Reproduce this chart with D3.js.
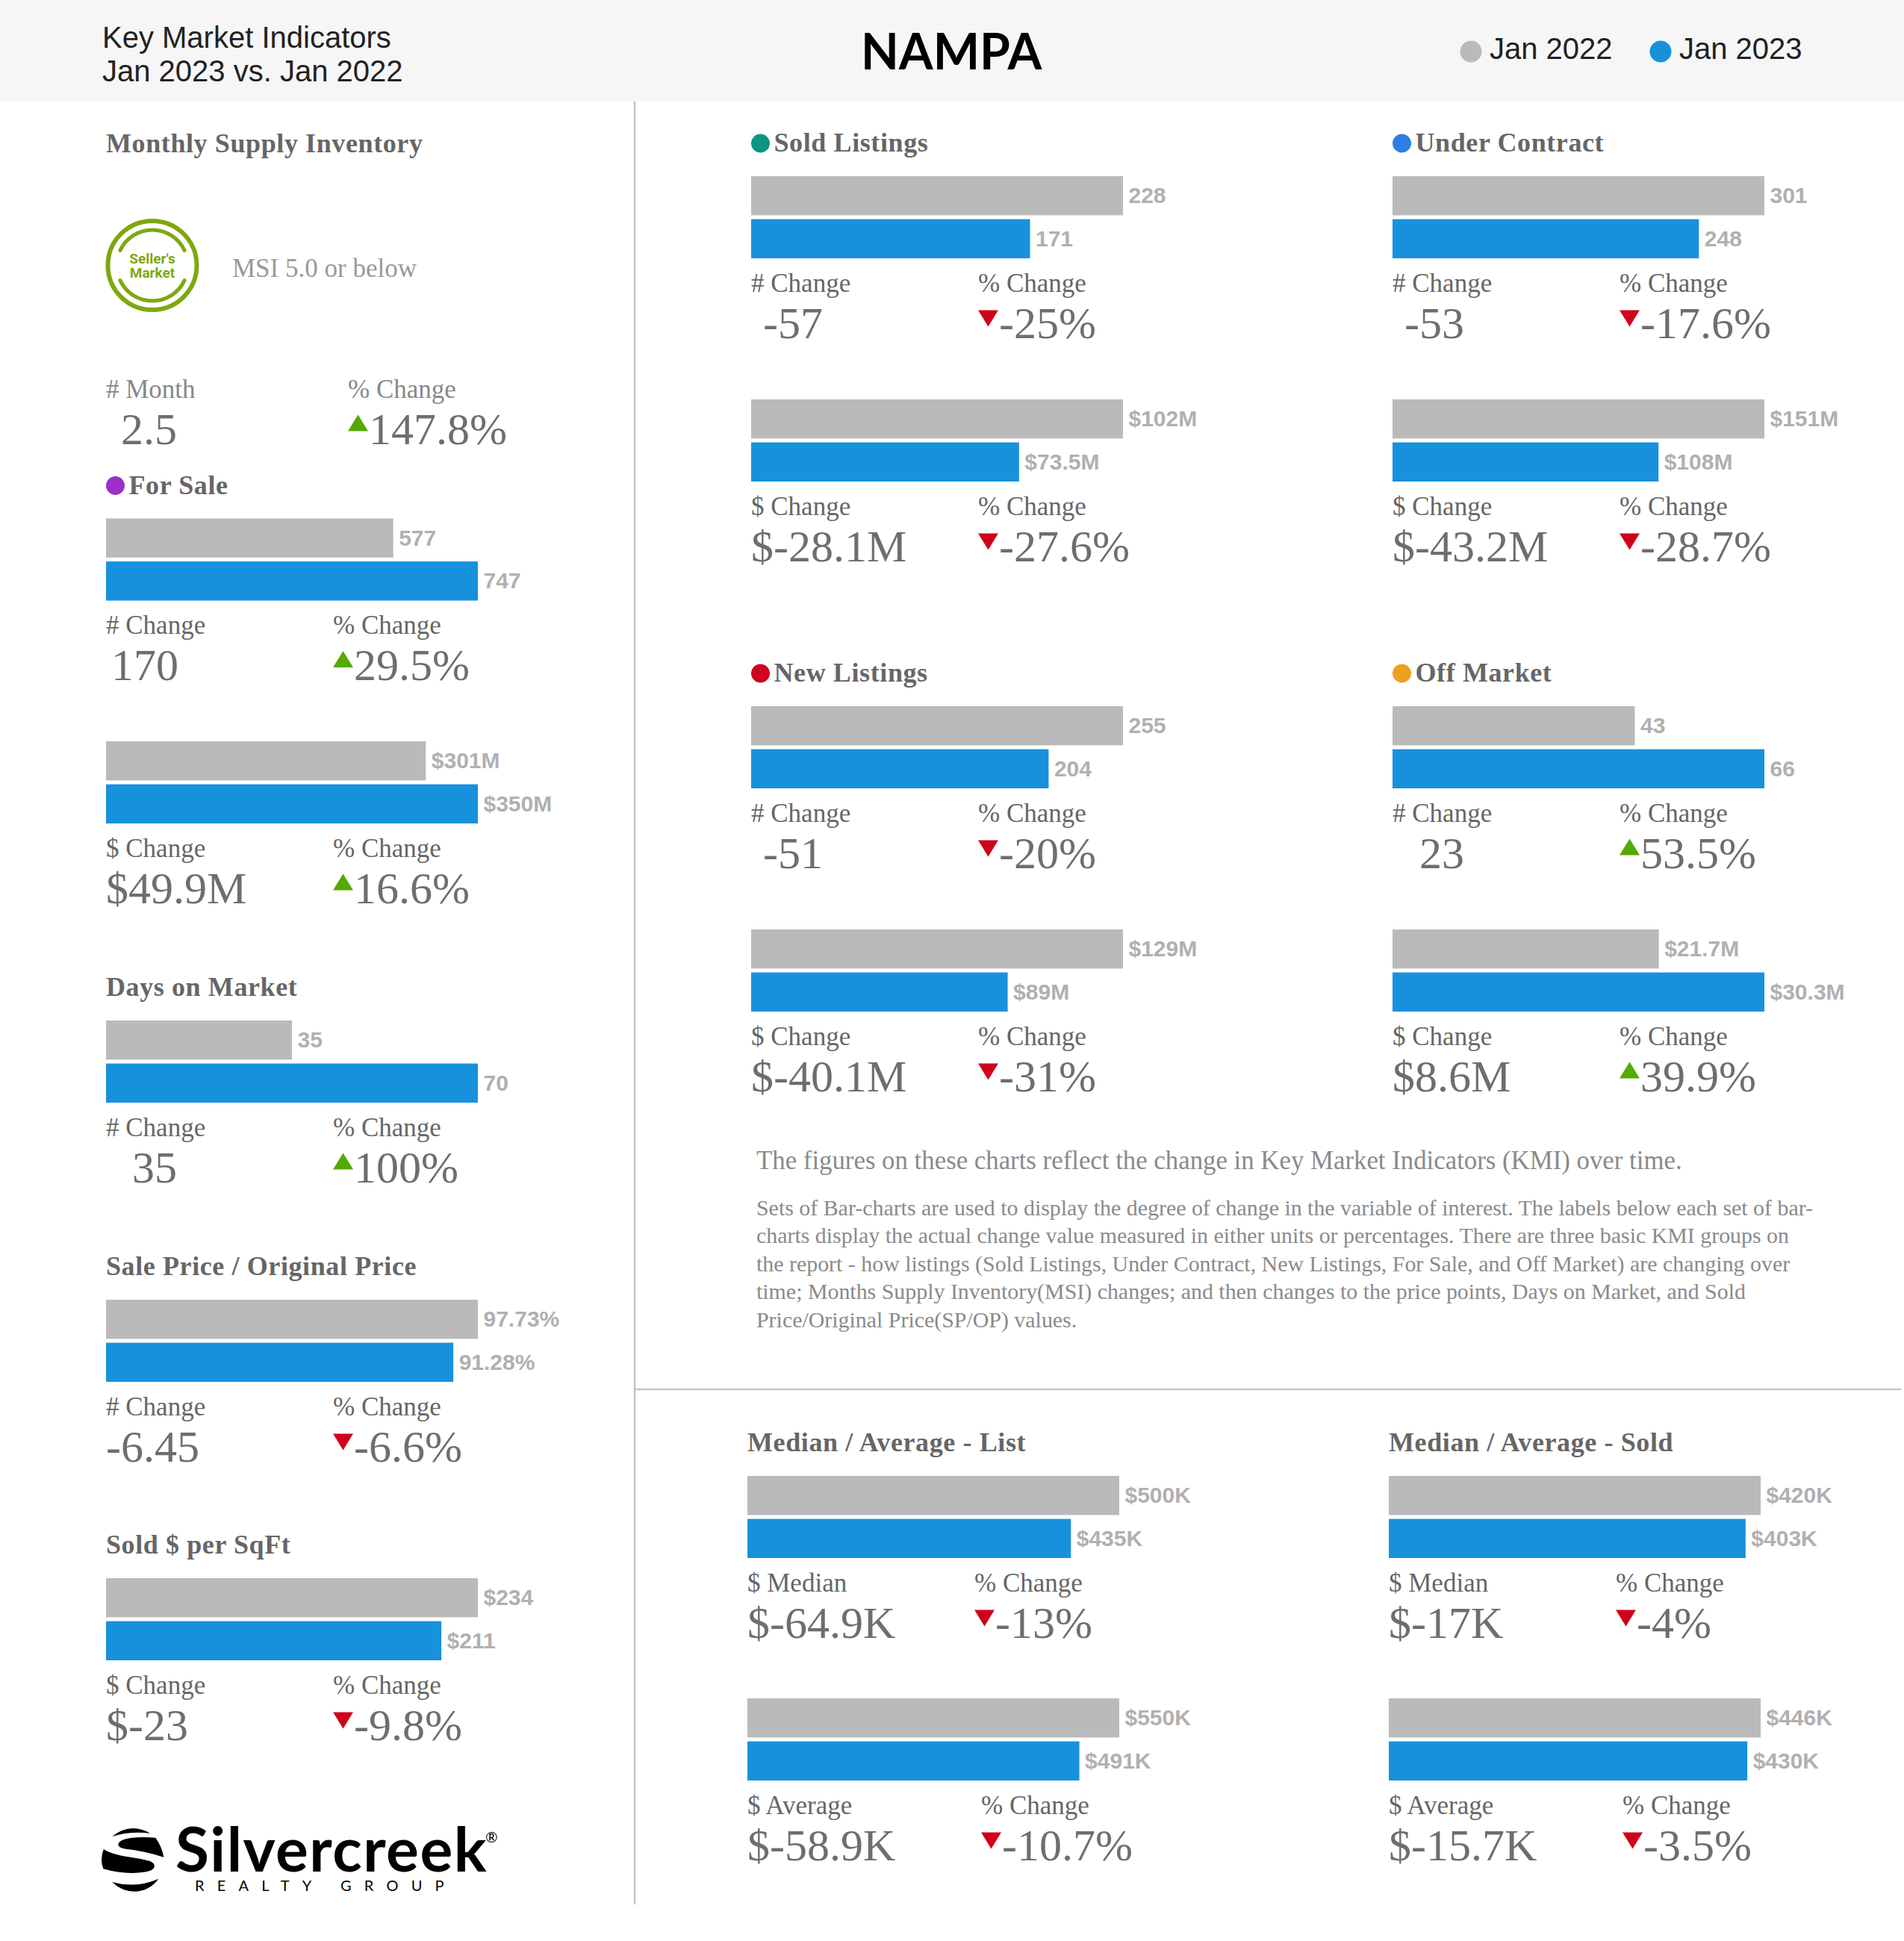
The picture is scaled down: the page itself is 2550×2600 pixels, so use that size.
<!DOCTYPE html>
<html>
<head>
<meta charset="utf-8">
<script src="https://cdnjs.cloudflare.com/ajax/libs/d3/7.8.5/d3.min.js"></script>
<style>
html, body { margin: 0; padding: 0; background: #fff; }
svg { display: block; }
</style>
</head>
<body>
<svg width="2550" height="2600"></svg>
<script>
// data, one entry per bar pair
const seriesNames = ["Jan 2022", "Jan 2023"];
const values2022 = [577, 301, 35, 97.73, 234, 228, 102, 301, 151, 255, 129, 43, 21.7, 500, 550, 420, 446];
const values2023 = [747, 350, 70, 91.28, 211, 171, 73.5, 248, 108, 204, 89, 66, 30.3, 435, 491, 403, 430];
const labels2022 = ["577", "$301M", "35", "97.73%", "$234", "228", "$102M", "301", "$151M", "255", "$129M", "43", "$21.7M", "$500K", "$550K", "$420K", "$446K"];
const labels2023 = ["747", "$350M", "70", "91.28%", "$211", "171", "$73.5M", "248", "$108M", "204", "$89M", "66", "$30.3M", "$435K", "$491K", "$403K", "$430K"];
const changeTitles = ["# Change", "$ Change", "# Change", "# Change", "$ Change", "# Change", "$ Change", "# Change", "$ Change", "# Change", "$ Change", "# Change", "$ Change", "$ Median", "$ Average", "$ Median", "$ Average"];
const changeValues = ["170", "$49.9M", "35", "-6.45", "$-23", "-57", "$-28.1M", "-53", "$-43.2M", "-51", "$-40.1M", "23", "$8.6M", "$-64.9K", "$-58.9K", "$-17K", "$-15.7K"];
const pctValues = [29.5, 16.6, 100, -6.6, -9.8, -25, -27.6, -17.6, -28.7, -20, -31, 53.5, 39.9, -13, -10.7, -4, -3.5];
const panelTitles = ["For Sale", null, "Days on Market", "Sale Price / Original Price", "Sold $ per SqFt", "Sold Listings", null, "Under Contract", null, "New Listings", null, "Off Market", null, "Median / Average - List", null, "Median / Average - Sold", null];
const titleDots = ["#9b30c8", null, null, null, null, "#0a9682", null, "#2c7fe3", null, "#d0021b", null, "#f0a020", null, null, null, null, null];

const msiTitle = "Monthly Supply Inventory";
const msiNote = "MSI 5.0 or below";
const msiValue = "2.5";
const msiPct = 147.8;

const noteHead = "The figures on these charts reflect the change in Key Market Indicators (KMI) over time.";
const noteLines = [
    "Sets of Bar-charts are used to display the degree of change in the variable of interest. The labels below each set of bar-",
    "charts display the actual change value measured in either units or percentages. There are three basic KMI groups on",
    "the report - how listings (Sold Listings, Under Contract, New Listings, For Sale, and Off Market) are changing over",
    "time; Months Supply Inventory(MSI) changes; and then changes to the price points, Days on Market, and Sold",
    "Price/Original Price(SP/OP) values."
];

// layout of the panels, same order as the data
const panelX = [142, 142, 142, 142, 142, 1006, 1006, 1865, 1865, 1006, 1006, 1865, 1865, 1001, 1001, 1860, 1860];
const panelY = [694.5, 993, 1367, 1741, 2114, 236, 535, 236, 535, 946, 1245, 946, 1245, 1977, 2275, 1977, 2275];
const valueDx = [7, 0, 35, 0, 0, 16, 0, 16, 0, 16, 0, 36, 0, 0, 0, 0, 0];
const pctDx = [304, 304, 304, 304, 304, 304, 304, 304, 304, 304, 304, 304, 304, 304, 313, 304, 313];

const colors = { "Jan 2022": "#bababa", "Jan 2023": "#1891dd" };
const serif = "'Liberation Serif', serif";
const sans = "'Liberation Sans', sans-serif";
const barMax = 498;
const bigSize = 60;

// logo shapes in a 110 x 110 box at 3x
const globeParts = [
    "M75 75 Q150 16 228 62 Q150 52 75 75Z",
    "M250 80 Q275 115 283 158 Q200 132 130 125 Q100 120 100 108 Q100 90 145 82 Q190 75 250 80Z",
    "M42 125 Q60 142 130 155 Q200 165 230 175 Q248 185 245 198 Q240 215 190 220 Q120 228 40 205 Q25 165 42 125Z",
    "M75 258 Q170 285 262 245 Q225 295 165 296 Q115 296 75 258Z"
];

const svg = d3.select("svg");

function addText(g, x, y, str, size, color, font, weight) {
    return g.append("text")
        .attr("x", x)
        .attr("y", y)
        .attr("font-family", font || serif)
        .attr("font-size", size)
        .attr("font-weight", weight || "normal")
        .attr("fill", color)
        .text(str);
}

function addTitle(g, x, y, str) {
    return addText(g, x, y, str, 36, "#666", serif, "bold").attr("letter-spacing", 0.6);
}

function drawPct(g, x, y, pct) {
    // triangle then number, y is the baseline of the number
    const up = pct >= 0;
    const pts = up
        ? [[x, y - 17], [x + 27, y - 17], [x + 13.5, y - 39]]
        : [[x, y - 37], [x + 27, y - 37], [x + 13.5, y - 15]];
    g.append("polygon")
        .attr("points", pts.map(p => p.join(",")).join(" "))
        .attr("fill", up ? "#55a900" : "#d0021b");
    addText(g, x + 28, y, pct + "%", bigSize, "#6e6e6e");
}

function drawPanel(i) {
    const g = svg.append("g").attr("transform", `translate(${panelX[i]}, ${panelY[i]})`);
    const row = [
        { name: seriesNames[0], value: values2022[i], label: labels2022[i] },
        { name: seriesNames[1], value: values2023[i], label: labels2023[i] }
    ];

    const scX = d3.scaleLinear().domain([0, d3.max(row, d => d.value)]).range([0, barMax]);
    const scY = d3.scaleBand().domain(seriesNames).range([0, 110]).paddingInner(0.09);

    g.selectAll(".bar")
        .data(row)
        .enter()
        .append("rect")
        .attr("x", 0)
        .attr("y", d => scY(d.name))
        .attr("width", d => scX(d.value))
        .attr("height", scY.bandwidth())
        .attr("fill", d => colors[d.name]);

    g.selectAll(".val")
        .data(row)
        .enter()
        .append("text")
        .attr("x", d => scX(d.value) + 7.5)
        .attr("y", d => scY(d.name) + 36)
        .attr("font-family", sans)
        .attr("font-weight", "bold")
        .attr("font-size", 30)
        .attr("fill", "#b0b0b0")
        .text(d => d.label);

    if (panelTitles[i]) {
        const dot = titleDots[i];
        if (dot) {
            g.append("circle").attr("cx", 12.5).attr("cy", -44).attr("r", 12.5).attr("fill", dot);
        }
        addTitle(g, dot ? 30.5 : 0, -33, panelTitles[i]);
    }

    addText(g, 0, 154.5, changeTitles[i], 35, "#666");
    addText(g, pctDx[i], 154.5, "% Change", 35, "#666");
    addText(g, valueDx[i], 216.5, changeValues[i], bigSize, "#6e6e6e");
    drawPct(g, pctDx[i], 216.5, pctValues[i]);
}

function drawHeader() {
    svg.append("rect").attr("width", 2550).attr("height", 136).attr("fill", "#f6f6f6");
    addText(svg, 137, 64, "Key Market Indicators", 40, "#222", sans);
    addText(svg, 137, 109, "Jan 2023 vs. Jan 2022", 40, "#222", sans);
    addText(svg, 1153, 93, "NAMPA", 66, "#000", "Lato", 700);

    const legendX = [1970, 2224];
    seriesNames.forEach((name, i) => {
        svg.append("circle").attr("cx", legendX[i]).attr("cy", 69).attr("r", 14.5).attr("fill", colors[name]);
        addText(svg, legendX[i] + 25, 79, name, 40, "#222", sans);
    });
}

function drawMsi() {
    addTitle(svg, 142, 204, msiTitle);

    const green = "#7ea80f";
    const badge = svg.append("g").attr("transform", "translate(204, 355.5)");
    badge.append("circle").attr("r", 59.5).attr("fill", "none").attr("stroke", green).attr("stroke-width", 6);
    const arc = d3.arc().innerRadius(45).outerRadius(50).cornerRadius(2.5);
    [[-68, 68], [112, 248]].forEach(a => {
        badge.append("path")
            .attr("d", arc({ startAngle: a[0] * Math.PI / 180, endAngle: a[1] * Math.PI / 180 }))
            .attr("fill", green);
    });
    badge.selectAll(".badgeText")
        .data(["Seller's", "Market"])
        .enter()
        .append("text")
        .attr("text-anchor", "middle")
        .attr("y", (d, i) => -3 + i * 19)
        .attr("font-family", "Roboto")
        .attr("font-weight", "bold")
        .attr("font-size", 19)
        .attr("fill", green)
        .text(d => d);

    addText(svg, 311, 371, msiNote, 35, "#999");
    addText(svg, 142, 533, "# Month", 35, "#888");
    addText(svg, 466, 533, "% Change", 35, "#888");
    addText(svg, 162, 594.5, msiValue, bigSize, "#6e6e6e");
    drawPct(svg, 466, 594.5, msiPct);
}

function drawNote() {
    addText(svg, 1013, 1566, noteHead, 34.8, "#8a8a8a");
    svg.selectAll(".noteLine")
        .data(noteLines)
        .enter()
        .append("text")
        .attr("x", 1013)
        .attr("y", (d, i) => 1627.5 + i * 37.5)
        .attr("font-family", serif)
        .attr("font-size", 29.9)
        .attr("fill", "#8a8a8a")
        .text(d => d);
}

function drawDividers() {
    svg.append("line").attr("x1", 850).attr("x2", 850).attr("y1", 136).attr("y2", 2551)
        .attr("stroke", "#c4c4c4").attr("stroke-width", 2.5);
    svg.append("line").attr("x1", 850).attr("x2", 2546).attr("y1", 1861).attr("y2", 1861)
        .attr("stroke", "#c4c4c4").attr("stroke-width", 2.5);
}

function drawLogo() {
    const g = svg.append("g");
    g.append("g")
        .attr("transform", "translate(125, 2435) scale(0.3333)")
        .selectAll("path")
        .data(globeParts)
        .enter()
        .append("path")
        .attr("d", d => d)
        .attr("fill", "#000");
    addText(g, 235, 2507, "Silvercreek", 82, "#000", "Lato", 700).attr("letter-spacing", 1.5);
    addText(g, 261, 2533, "REALTY GROUP", 20, "#000", "Lato", 400).attr("letter-spacing", 17.2);
    addText(g, 650, 2468, "®", 20, "#000", "Lato");
}

drawHeader();
drawDividers();
drawMsi();
d3.range(values2022.length).forEach(drawPanel);
drawNote();
drawLogo();
</script>
</body>
</html>
